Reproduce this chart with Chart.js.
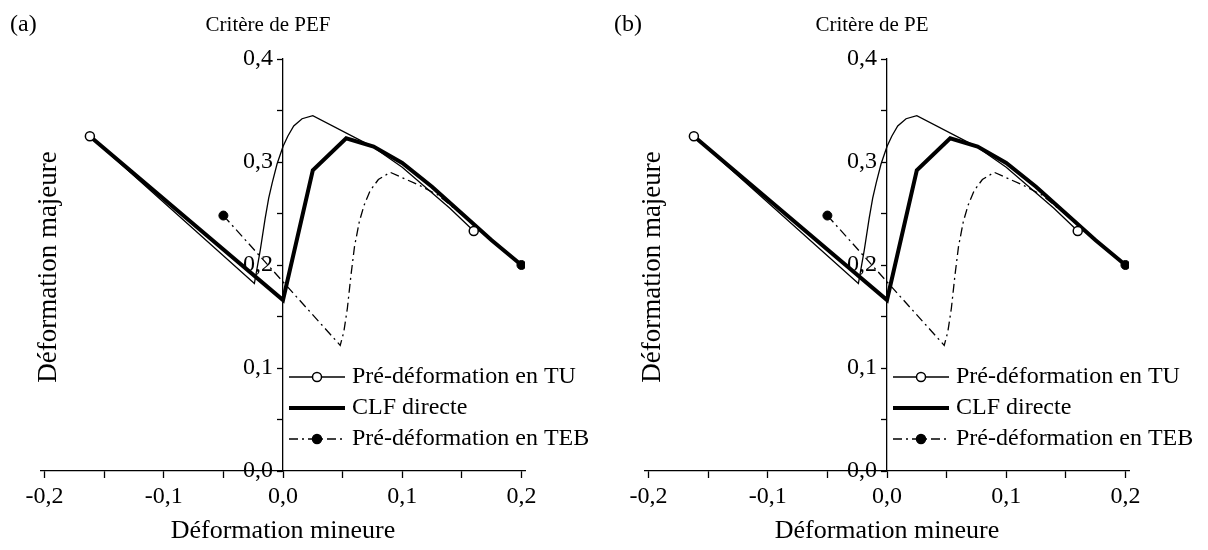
<!DOCTYPE html>
<html lang="fr">
<head>
  <meta charset="UTF-8">
  <title>CLF : critères de PEF et de PE</title>
  <script src="https://cdn.jsdelivr.net/npm/chart.js"></script>
  <style>
    body {
      margin: 0;
      background-color: #ffffff;
    }

    .panels {
      display: flex;
      width: 1208px;
      height: 550px;
    }

    .panel {
      width: 604px;
      height: 550px;
    }
  </style>
</head>
<body>

  <div class="panels">
    <div class="panel"><canvas id="chartA" width="604" height="550"></canvas></div>
    <div class="panel"><canvas id="chartB" width="604" height="550"></canvas></div>
  </div>

  <script>
    // Pré-déformation en TU (trait fin, cercles ouverts)
    const tuX = [-0.162, -0.024, -0.019, -0.015, -0.012, -0.009, -0.005, 0, 0.004, 0.009, 0.016, 0.025, 0.075, 0.1, 0.12, 0.14, 0.16];
    const tuY = [0.325, 0.182, 0.215, 0.245, 0.265, 0.28, 0.298, 0.315, 0.325, 0.335, 0.342, 0.345, 0.315, 0.295, 0.275, 0.255, 0.233];

    // CLF directe (trait épais)
    const clfX = [-0.162, 0, 0.025, 0.053, 0.076, 0.1, 0.125, 0.15, 0.175, 0.2];
    const clfY = [0.325, 0.166, 0.292, 0.323, 0.315, 0.299, 0.276, 0.25, 0.224, 0.2];

    // Pré-déformation en TEB (tiret-point, cercles pleins)
    const tebX = [-0.05, 0.048, 0.051, 0.054, 0.057, 0.06, 0.064, 0.068, 0.073, 0.08, 0.09, 0.115, 0.13, 0.15, 0.175, 0.2];
    const tebY = [0.248, 0.122, 0.135, 0.158, 0.19, 0.218, 0.242, 0.258, 0.272, 0.283, 0.29, 0.277, 0.268, 0.249, 0.224, 0.2];

    // graduations
    const xTickValues = [-0.2, -0.15, -0.1, -0.05, 0, 0.05, 0.1, 0.15, 0.2];
    const xTickLabels = ['-0,2', '', '-0,1', '', '0,0', '', '0,1', '', '0,2'];
    const yTickValues = [0, 0.05, 0.1, 0.15, 0.2, 0.25, 0.3, 0.35, 0.4];
    const yTickLabels = ['0,0', '', '0,1', '', '0,2', '', '0,3', '', '0,4'];

    const panelLetters = ['(a)', '(b)'];
    const panelTitles = ['Critère de PEF', 'Critère de PE'];
    const seriesNames = ['Pré-déformation en TU', 'CLF directe', 'Pré-déformation en TEB'];

    Chart.defaults.font.family = '"Liberation Serif", "Times New Roman", serif';
    Chart.defaults.color = '#000';

    const styles = [
      { width: 1.3, dash: [], marker: 'open' },
      { width: 4, dash: [], marker: null },
      { width: 1.3, dash: [9, 4, 2, 4], marker: 'filled' }
    ];

    function points(xs, ys) {
      return xs.map((x, i) => ({ x: x, y: ys[i] }));
    }

    function endRadius(n) {
      return ctx => (ctx.dataIndex === 0 || ctx.dataIndex === n - 1) ? 4.5 : 0;
    }

    // titres, lettre du panneau, titre de l'axe y et légende
    const decorPlugin = {
      id: 'decor',
      afterLayout(chart) {
        // l'axe y passe par x = 0 (zone des étiquettes à sa gauche)
        const y = chart.scales.y;
        const px = chart.scales.x.getPixelForValue(0);
        y.left = px - 70;
        y.right = px;
        y._labelItems = null;
        y._gridLineItems = null;
      },
      afterDraw(chart, args, opts) {
        const ctx = chart.ctx;
        ctx.save();
        ctx.fillStyle = '#000';
        ctx.strokeStyle = '#000';
        ctx.textBaseline = 'middle';

        ctx.font = '24px "Liberation Serif"';
        ctx.textAlign = 'left';
        ctx.fillText(opts.letter, 10, 25);

        ctx.font = '21px "Liberation Serif"';
        ctx.textAlign = 'center';
        ctx.fillText(opts.title, 268, 25);

        ctx.save();
        ctx.translate(49, 267);
        ctx.rotate(-Math.PI / 2);
        ctx.font = '27px "Liberation Serif"';
        ctx.fillText('Déformation majeure', 0, 0);
        ctx.restore();

        // légende
        const rowsY = [377, 408, 439];
        ctx.font = '24px "Liberation Serif"';
        ctx.textAlign = 'left';
        seriesNames.forEach((name, i) => {
          const st = styles[i];
          const ly = rowsY[i];
          ctx.lineWidth = st.width;
          ctx.setLineDash(st.dash);
          ctx.beginPath();
          ctx.moveTo(289, ly);
          ctx.lineTo(345, ly);
          ctx.stroke();
          ctx.setLineDash([]);
          if (st.marker) {
            ctx.beginPath();
            ctx.arc(317, ly, 4.5, 0, Math.PI * 2);
            ctx.fillStyle = st.marker === 'open' ? '#fff' : '#000';
            ctx.fill();
            ctx.lineWidth = 1.5;
            ctx.stroke();
            ctx.fillStyle = '#000';
          }
          ctx.fillText(name, 352, ly);
        });
        ctx.restore();
      }
    };

    function makeChart(canvasId, idx) {
      return new Chart(document.getElementById(canvasId), {
        type: 'line',
        data: {
          datasets: [
            {
              label: seriesNames[0],
              data: points(tuX, tuY),
              borderColor: '#000',
              borderWidth: styles[0].width,
              pointRadius: endRadius(tuX.length),
              pointBackgroundColor: '#fff',
              pointBorderColor: '#000',
              pointBorderWidth: 1.5,
              order: 1
            },
            {
              label: seriesNames[2],
              data: points(tebX, tebY),
              borderColor: '#000',
              borderWidth: styles[2].width,
              borderDash: styles[2].dash,
              pointRadius: endRadius(tebX.length),
              pointBackgroundColor: '#000',
              pointBorderColor: '#000',
              pointBorderWidth: 1,
              order: 2
            },
            {
              label: seriesNames[1],
              data: points(clfX, clfY),
              borderColor: '#000',
              borderWidth: styles[1].width,
              borderJoinStyle: 'miter',
              pointRadius: 0,
              order: 3
            }
          ]
        },
        options: {
          responsive: false,
          animation: false,
          events: [],
          layout: {
            padding: { left: 41, right: 79, top: 59, bottom: 0 }
          },
          plugins: {
            legend: { display: false },
            tooltip: { enabled: false },
            decor: { letter: panelLetters[idx], title: panelTitles[idx] }
          },
          scales: {
            x: {
              type: 'linear',
              min: -0.203,
              max: 0.203,
              afterBuildTicks: s => { s.ticks = xTickValues.map(v => ({ value: v })); },
              afterFit: s => { s.height = 79; s.paddingLeft = 0; s.paddingRight = 0; },
              grid: { drawOnChartArea: false, tickLength: 7, tickColor: '#000', tickWidth: 1.3 },
              border: { color: '#000', width: 1.3 },
              ticks: {
                autoSkip: false,
                maxRotation: 0,
                padding: 4,
                font: { size: 24 },
                callback: (v, i) => xTickLabels[i]
              },
              title: {
                display: true,
                text: 'Déformation mineure',
                font: { size: 26 },
                padding: { top: 0, bottom: 3 }
              }
            },
            y: {
              type: 'linear',
              position: 'left',
              min: 0,
              max: 0.4,
              afterBuildTicks: s => { s.ticks = yTickValues.map(v => ({ value: v })); },
              afterFit: s => { s.width = 0; s.paddingTop = 0; s.paddingBottom = 0; },
              grid: { drawOnChartArea: false, tickLength: 6, tickColor: '#000', tickWidth: 1.3 },
              border: { color: '#000', width: 1.3 },
              ticks: {
                autoSkip: false,
                padding: 4,
                font: { size: 24 },
                callback: (v, i) => yTickLabels[i]
              }
            }
          }
        },
        plugins: [decorPlugin]
      });
    }

    makeChart('chartA', 0);
    makeChart('chartB', 1);
  </script>

</body>
</html>
